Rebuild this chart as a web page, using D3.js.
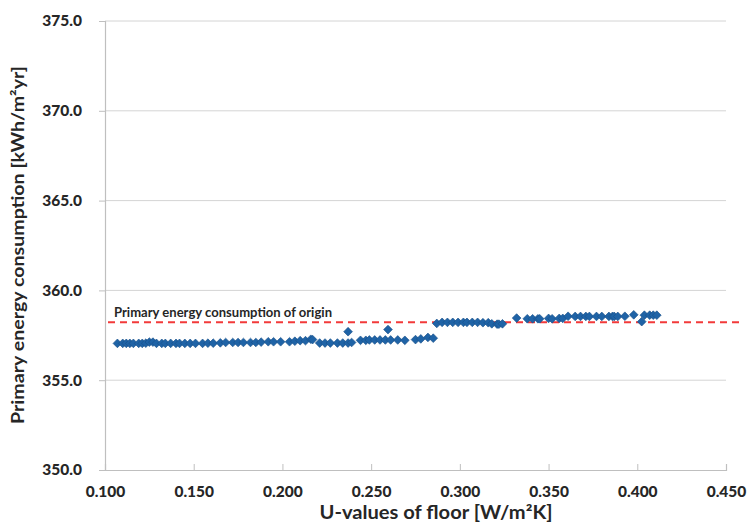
<!DOCTYPE html>
<html><head><meta charset="utf-8">
<script src="https://cdn.jsdelivr.net/npm/d3@7"></script>
<style>body{margin:0;background:#fff;} svg{display:block;}</style>
</head><body>
<svg id="chart" width="751" height="528"></svg>
<script>
// U-values of floor [W/m2K]
const uValues = [
 0.107,0.110,0.112,0.114,0.116,0.119,0.121,0.123,0.125,0.127,
 0.129,0.132,0.134,0.137,0.140,0.142,0.145,0.148,0.151,0.155,
 0.158,0.161,0.165,0.168,0.172,0.175,0.178,0.182,0.185,0.188,
 0.192,0.195,0.199,0.204,0.207,0.210,0.213,0.216,0.217,0.221,
 0.224,0.227,0.231,0.234,0.237,0.239,0.244,0.247,0.249,0.252,
 0.255,0.258,0.261,0.265,0.269,0.275,0.278,0.282,0.285,
 0.237,0.2595,
 0.287,0.290,0.293,0.296,0.299,0.302,0.304,0.307,0.310,0.313,
 0.316,0.318,0.321,0.322,0.324,
 0.332,0.338,0.341,0.344,0.345,0.350,0.352,0.356,0.358,0.361,
 0.365,0.368,0.371,0.373,0.377,0.380,0.384,0.386,0.387,0.389,
 0.393,0.398,0.4025,0.404,0.407,0.409,0.411
];
// Primary energy consumption [kWh/m2yr]
const energyValues = [
 357.05,357.05,357.05,357.05,357.05,357.05,357.05,357.06,357.12,357.12,
 357.05,357.05,357.05,357.05,357.05,357.05,357.05,357.05,357.05,357.05,
 357.06,357.06,357.08,357.10,357.10,357.10,357.10,357.10,357.10,357.12,
 357.14,357.14,357.14,357.14,357.17,357.20,357.20,357.28,357.26,357.07,
 357.07,357.07,357.07,357.07,357.07,357.10,357.22,357.22,357.24,357.24,
 357.24,357.24,357.24,357.24,357.22,357.26,357.30,357.38,357.34,
 357.70,357.82,
 358.16,358.22,358.22,358.22,358.22,358.22,358.22,358.22,358.22,358.20,
 358.20,358.14,358.12,358.12,358.14,
 358.46,358.42,358.42,358.42,358.42,358.44,358.42,358.44,358.44,358.56,
 358.55,358.55,358.55,358.55,358.55,358.55,358.55,358.55,358.55,358.55,
 358.56,358.64,358.26,358.62,358.62,358.62,358.62
];
const xTicks = [0.100,0.150,0.200,0.250,0.300,0.350,0.400,0.450];
const yTicks = [350,355,360,365,370,375];
const originValue = 358.22;
const originLabel = "Primary energy consumption of origin";
const xTitle = "U-values of floor [W/m²K]";
const yTitle = "Primary energy consumption [kWh/m²yr]";

const svg = d3.select("#chart");
const mLeft = 105, mRight = 726, mTop = 21, mBottom = 470;
const x = d3.scaleLinear().domain([0.1,0.45]).range([mLeft,mRight]);
const y = d3.scaleLinear().domain([350,375]).range([mBottom,mTop]);
const font = "Lato, 'Liberation Sans', sans-serif";
const txt = "#262626";

// gridlines
svg.append("g").selectAll("line").data(yTicks.filter(d=>d>350)).join("line")
  .attr("x1",mLeft).attr("x2",mRight).attr("y1",d=>y(d)).attr("y2",d=>y(d))
  .attr("stroke","#d4d4d4").attr("stroke-width",1);

// Y axis
const yAxis = svg.append("g").attr("transform",`translate(${mLeft},0)`)
  .call(d3.axisLeft(y).tickValues(yTicks).tickFormat(d3.format(".1f")).tickSize(6).tickPadding(17));
yAxis.select(".domain").attr("stroke","#bfbfbf").attr("stroke-width",1.2);
yAxis.selectAll(".tick line").attr("stroke","#bfbfbf");
yAxis.selectAll("text").attr("font-family",font).attr("font-weight","900")
  .attr("font-size",15.5).attr("fill",txt);

// X axis
const xAxis = svg.append("g").attr("transform",`translate(0,${mBottom})`)
  .call(d3.axisBottom(x).tickValues(xTicks).tickFormat(d3.format(".3f")).tickSize(-6).tickPadding(16));
xAxis.select(".domain").attr("stroke","#bfbfbf").attr("stroke-width",1.2);
xAxis.selectAll(".tick line").attr("stroke","#bfbfbf");
xAxis.selectAll("text").attr("font-family",font).attr("font-weight","900")
  .attr("font-size",15.5).attr("fill",txt);

// reference line
svg.append("line")
  .attr("x1",x(0.1)+3).attr("x2",x(0.45)+16)
  .attr("y1",y(originValue)).attr("y2",y(originValue))
  .attr("stroke","#f23a3a").attr("stroke-width",2).attr("stroke-dasharray","7,5");
svg.append("text").attr("x",x(0.1)+9).attr("y",y(originValue)-5)
  .attr("font-family",font).attr("font-size",12.5).attr("fill",txt).attr("font-weight","bold")
  .attr("textLength",218).attr("lengthAdjust","spacingAndGlyphs")
  .text(originLabel);

// points
const pts = uValues.map((u,i)=>({u, e: energyValues[i]}));
const sym = d3.symbol().type(d3.symbolSquare).size(38);
svg.append("g").selectAll("path").data(pts).join("path")
  .attr("d",sym)
  .attr("transform",d=>`translate(${x(d.u)},${y(d.e)}) rotate(45)`)
  .attr("fill","#1f63a6").attr("stroke","#174f88").attr("stroke-width",0.6);

// titles
svg.append("text").attr("x",436).attr("y",519)
  .attr("text-anchor","middle").attr("font-family",font).attr("font-weight","bold")
  .attr("font-size",18).attr("fill",txt)
  .attr("textLength",233).attr("lengthAdjust","spacingAndGlyphs").text(xTitle);
svg.append("text").attr("transform",`translate(24,${245}) rotate(-90)`)
  .attr("text-anchor","middle").attr("font-family",font).attr("font-weight","bold")
  .attr("font-size",16.5).attr("fill",txt)
  .attr("textLength",358).attr("lengthAdjust","spacingAndGlyphs").text(yTitle);
</script>
</body></html>
